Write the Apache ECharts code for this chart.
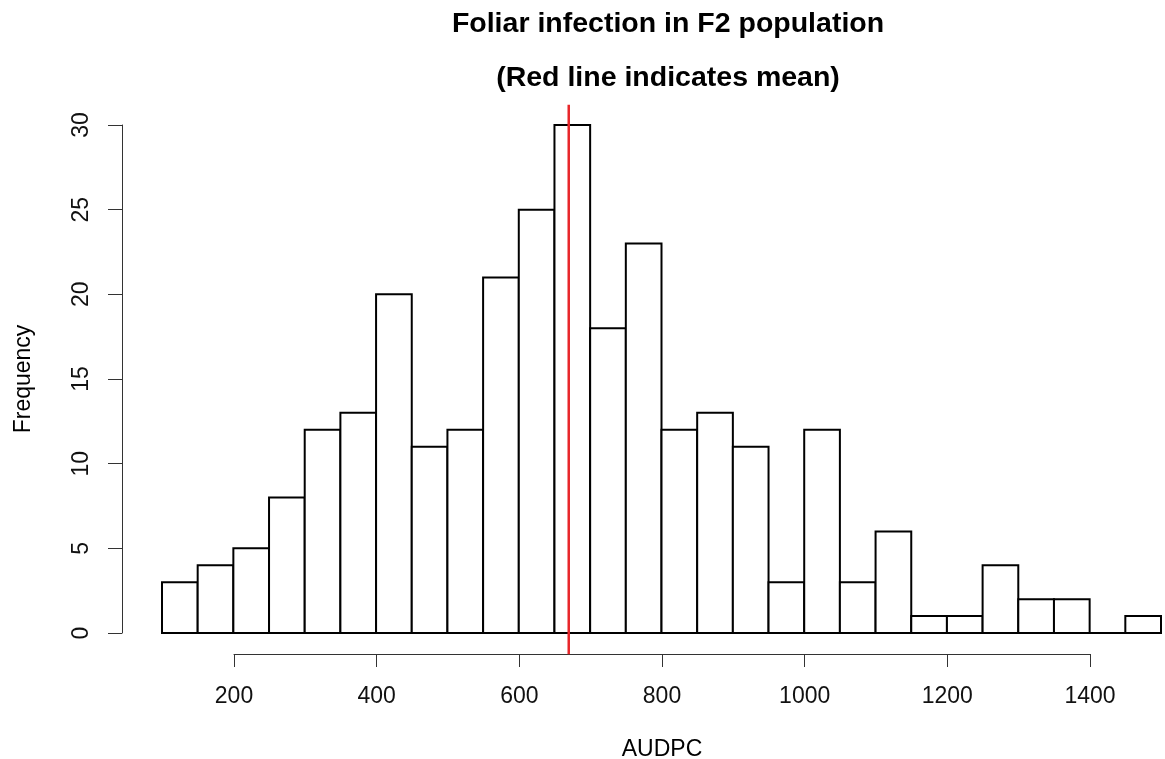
<!DOCTYPE html>
<html>
<head>
<meta charset="utf-8">
<title>Foliar infection in F2 population</title>
<script src="https://cdn.jsdelivr.net/npm/echarts@6/dist/echarts.min.js"></script>
<style>
  html, body { margin: 0; padding: 0; background: #fff; }
  #chart { width: 1165px; height: 759px; }
</style>
</head>
<body>
<div id="chart"></div>
<script>
// histogram breaks (AUDPC) and counts per bin
const breaks = [100, 150, 200, 250, 300, 350, 400, 450, 500, 550, 600, 650, 700, 750,
  800, 850, 900, 950, 1000, 1050, 1100, 1150, 1200, 1250, 1300, 1350, 1400, 1450, 1500]
const counts = [3, 4, 5, 8, 12, 13, 20, 11, 12, 21, 25, 30, 18, 23,
  12, 13, 11, 3, 12, 3, 6, 1, 1, 4, 2, 2, 0, 1]
const meanAUDPC = 670
const yTicks = [0, 5, 10, 15, 20, 25, 30]

const font = "'Liberation Sans', Arial, Helvetica, sans-serif"

const bins = counts.map((c, i) => [breaks[i], breaks[i + 1], c])

const chart = echarts.init(document.getElementById('chart'))

const option = {
  animation: false,
  backgroundColor: '#fff',
  title: [
    {
      text: 'Foliar infection in F2 population',
      left: 663,
      top: 5,
      textAlign: 'center',
      textStyle: { fontFamily: font, fontSize: 28.5, fontWeight: 'bold', color: '#000' }
    },
    {
      text: '(Red line indicates mean)',
      left: 663,
      top: 59,
      textAlign: 'center',
      textStyle: { fontFamily: font, fontSize: 28.5, fontWeight: 'bold', color: '#000' }
    }
  ],
  grid: [
    // plot area for the bars
    { left: 162, right: 4, top: 125, bottom: 126, outerBoundsMode: 'none', containLabel: false },
    // separate strip holding the visible x axis (R style, detached)
    { left: 234, right: 75, top: 653, height: 1, outerBoundsMode: 'none', containLabel: false }
  ],
  xAxis: [
    {
      gridIndex: 0,
      type: 'value',
      min: breaks[0],
      max: breaks[breaks.length - 1],
      show: false
    },
    {
      gridIndex: 1,
      type: 'value',
      min: 200,
      max: 1400,
      interval: 200,
      position: 'bottom',
      name: 'AUDPC',
      nameLocation: 'middle',
      nameGap: 84,
      nameTextStyle: { fontFamily: font, fontSize: 23, color: '#000' },
      axisLine: { show: true, lineStyle: { color: '#333', width: 1 } },
      axisTick: { show: true, length: 13, lineStyle: { color: '#333', width: 1 } },
      axisLabel: { margin: 31, fontFamily: font, fontSize: 23, color: '#111', formatter: v => String(v) },
      splitLine: { show: false }
    }
  ],
  yAxis: [
    {
      gridIndex: 0,
      type: 'value',
      min: yTicks[0],
      max: yTicks[yTicks.length - 1],
      interval: 5,
      offset: 40,
      name: 'Frequency',
      nameLocation: 'middle',
      nameRotate: 90,
      nameGap: 87,
      nameTextStyle: { fontFamily: font, fontSize: 23, color: '#000' },
      axisLine: { show: true, lineStyle: { color: '#333', width: 1 } },
      axisTick: { show: true, length: 14, lineStyle: { color: '#333', width: 1 } },
      axisLabel: { rotate: 90, margin: 29, fontFamily: font, fontSize: 23, color: '#111', align: 'center', verticalAlign: 'bottom' },
      splitLine: { show: false }
    },
    {
      gridIndex: 1,
      type: 'value',
      show: false
    }
  ],
  series: [
    {
      name: 'AUDPC',
      type: 'custom',
      xAxisIndex: 0,
      yAxisIndex: 0,
      encode: { x: [0, 1], y: 2 },
      data: bins,
      renderItem: (params, api) => {
        const topLeft = api.coord([api.value(0), api.value(2)])
        const bottomRight = api.coord([api.value(1), 0])
        return {
          type: 'rect',
          shape: {
            x: topLeft[0],
            y: topLeft[1],
            width: bottomRight[0] - topLeft[0],
            height: bottomRight[1] - topLeft[1]
          },
          style: { fill: '#fff', stroke: '#000', lineWidth: 2 }
        }
      }
    },
    {
      // mean line, spans the full plot region like abline()
      name: 'mean',
      type: 'custom',
      xAxisIndex: 0,
      yAxisIndex: 0,
      clip: false,
      z: 5,
      data: [[meanAUDPC]],
      renderItem: (params, api) => {
        const p1 = api.coord([api.value(0), -1.25])
        const p2 = api.coord([api.value(0), 31.2])
        return {
          type: 'line',
          shape: { x1: p1[0], y1: p1[1], x2: p2[0], y2: p2[1] },
          style: { stroke: '#e8262a', lineWidth: 2.5 }
        }
      }
    }
  ]
}

chart.setOption(option)
window.addEventListener('resize', () => chart.resize())
</script>
</body>
</html>
